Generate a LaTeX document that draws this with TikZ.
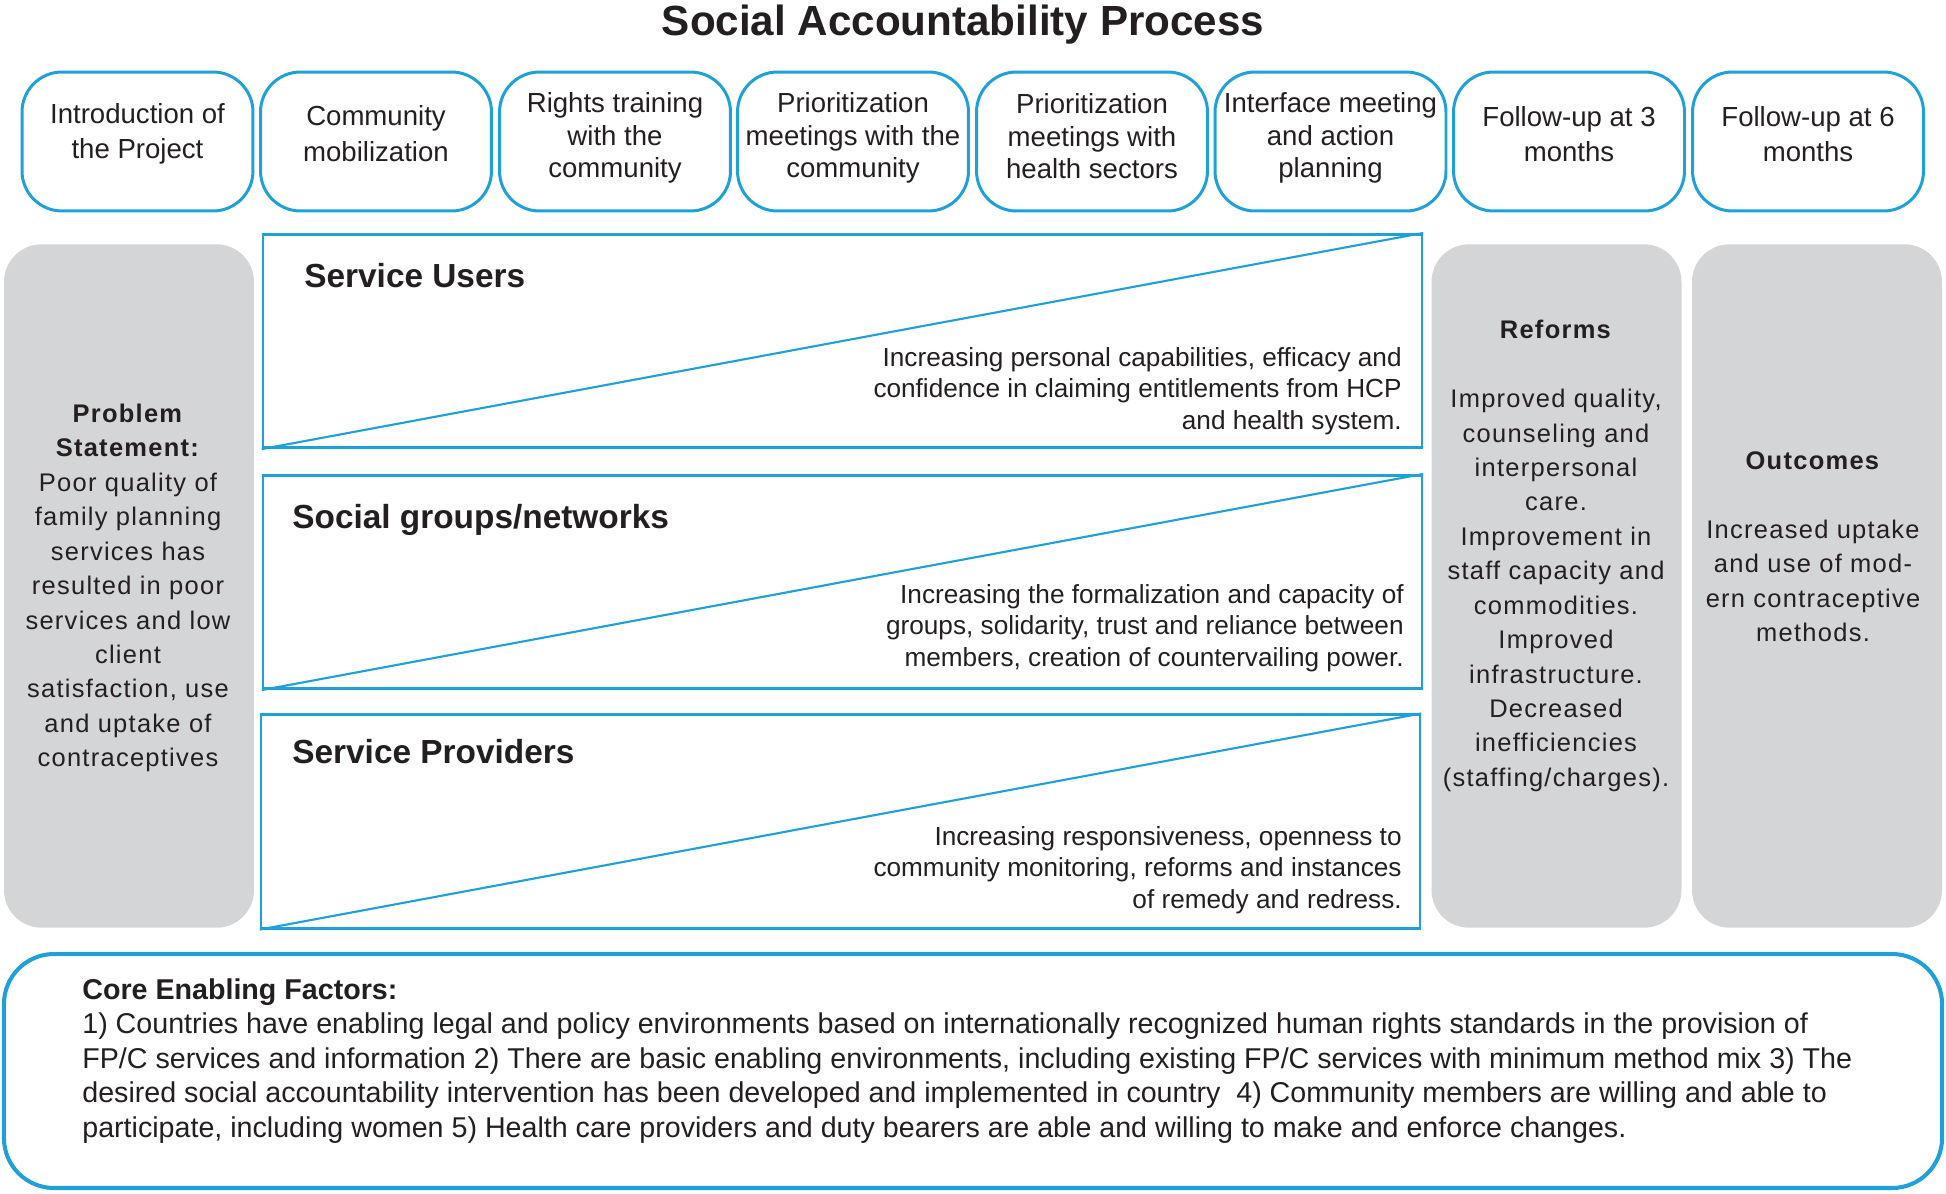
\documentclass[tikz,border=0pt]{standalone}
\usepackage{fontspec}
\setmainfont{Liberation Sans}
\newfontfamily\panelfont[LetterSpace=5]{Liberation Sans}
\usepackage{tikz}
\definecolor{sablue}{RGB}{30,160,218}
\definecolor{sagrey}{RGB}{212,213,215}
\definecolor{saink}{RGB}{35,31,32}

\begin{document}
\begin{tikzpicture}[x=0.02cm,y=-0.02cm,
  stage/.style={draw=sablue,line width=1.7pt,rounded corners=0.8cm,minimum width=4.62cm,minimum height=2.78cm},
  stagetext/.style={align=center,inner sep=0,text=saink,font=\fontsize{15.7}{18.5}\selectfont},
  level/.style={draw=sablue,line width=1.5pt,minimum width=23.18cm,minimum height=4.27cm},
  panel/.style={fill=sagrey,rounded corners=0.75cm,minimum width=5cm,minimum height=13.67cm},
  head/.style={anchor=west,inner sep=0,text=saink,font=\fontsize{19}{22}\selectfont\bfseries},
  gain/.style={anchor=east,align=right,inner sep=0,text=saink,font=\fontsize{14.9}{18}\selectfont},
  paneltext/.style={align=center,inner sep=0,text=saink,font=\panelfont\fontsize{14.5}{19.6}\selectfont}]
\useasboundingbox (0,0) rectangle (1946,1193);
\node[anchor=base,inner sep=0,text=saink,font=\fontsize{24}{28}\selectfont\bfseries] (title) at (963,36) {Social Accountability Process};

\node[stage] (intro) at (137.5,141.5) {};
\node[stage] (mobil) at (376,141.5) {};
\node[stage] (rights) at (615,141.5) {};
\node[stage] (priocom) at (853,141.5) {};
\node[stage] (priohs) at (1092,141.5) {};
\node[stage] (interf) at (1330.5,141.5) {};
\node[stage] (fup3) at (1569,141.5) {};
\node[stage] (fup6) at (1808,141.5) {};
\node[stagetext] (introtxt) at ([yshift=4.5pt]intro.center) {Introduction of\\[1.5pt]the Project};
\node[stagetext] (mobiltxt) at ([yshift=4.5pt]mobil.center) {Community\\[1.5pt]mobilization};
\node[stagetext] (rightstxt) at ([yshift=2pt]rights.center) {Rights training\\with the\\community};
\node[stagetext] (priocomtxt) at ([yshift=2pt]priocom.center) {Prioritization\\meetings with the\\community};
\node[stagetext] (priohstxt) at ([yshift=3pt]priohs.center) {Prioritization\\meetings with\\health sectors};
\node[stagetext] (interftxt) at ([yshift=2pt]interf.center) {Interface meeting\\and action\\planning};
\node[stagetext] (fup3txt) at ([yshift=4pt]fup3.center) {Follow-up at 3\\[1.5pt]months};
\node[stagetext] (fup6txt) at ([yshift=4pt]fup6.center) {Follow-up at 6\\[1.5pt]months};

\node[panel] (problem) at (129,586) {};
\node[panel] (reforms) at (1556.5,586) {};
\node[panel] (outcomes) at (1817,586) {};
\node[paneltext] (problemtxt) at (128,588) {\textbf{Problem}\\\textbf{Statement:}\\Poor quality of\\family planning\\services has\\resulted in poor\\services and low\\client\\satisfaction, use\\and uptake of\\contraceptives};
\node[paneltext] (reformstxt) at (1556,556) {\textbf{Reforms}\\[19.6pt]Improved quality,\\counseling and\\interpersonal\\care.\\Improvement in\\staff capacity and\\commodities.\\Improved\\infrastructure.\\Decreased\\inefficiencies\\(staffing/charges).};
\node[paneltext] (outcomestxt) at (1813,547) {\textbf{Outcomes}\\[19.6pt]Increased uptake\\and use of mod-\\ern contraceptive\\methods.};

\node[level] (users) at (842.5,341) {};
\node[level] (groups) at (842.5,582) {};
\node[level] (providers) at (840.5,821.5) {};
\draw[sablue,line width=1.2pt] (users.south west) -- (users.north east);
\draw[sablue,line width=1.2pt] (groups.south west) -- (groups.north east);
\draw[sablue,line width=1.2pt] (providers.south west) -- (providers.north east);
\node[head] (usershead) at (304,276) {Service Users};
\node[head] (groupshead) at (292,520) {Social groups/networks};
\node[head] (providershead) at (292,752) {Service Providers};
\node[gain] (usersgain) at (1402,391) {Increasing personal capabilities, efficacy and\\confidence in claiming entitlements from HCP\\and health system.};
\node[gain] (groupsgain) at (1404,628) {Increasing the formalization and capacity of\\groups, solidarity, trust and reliance between\\members, creation of countervailing power.};
\node[gain] (providersgain) at (1402,870) {Increasing responsiveness, openness to\\community monitoring, reforms and instances\\of remedy and redress.};

\node[draw=sablue,line width=2.3pt,rounded corners=1cm,minimum width=38.77cm,minimum height=4.68cm] (core) at (973,1071) {};
\node[anchor=west,align=left,inner sep=0,text=saink,font=\fontsize{16.3}{19.6}\selectfont] (coretxt) at (82,1061) {\textbf{Core Enabling Factors:}\\1) Countries have enabling legal and policy environments based on internationally recognized human rights standards in the provision of\\FP/C services and information 2) There are basic enabling environments, including existing FP/C services with minimum method mix 3) The\\desired social accountability intervention has been developed and implemented in country\ \ 4) Community members are willing and able to\\participate, including women 5) Health care providers and duty bearers are able and willing to make and enforce changes.};
\end{tikzpicture}
\end{document}
